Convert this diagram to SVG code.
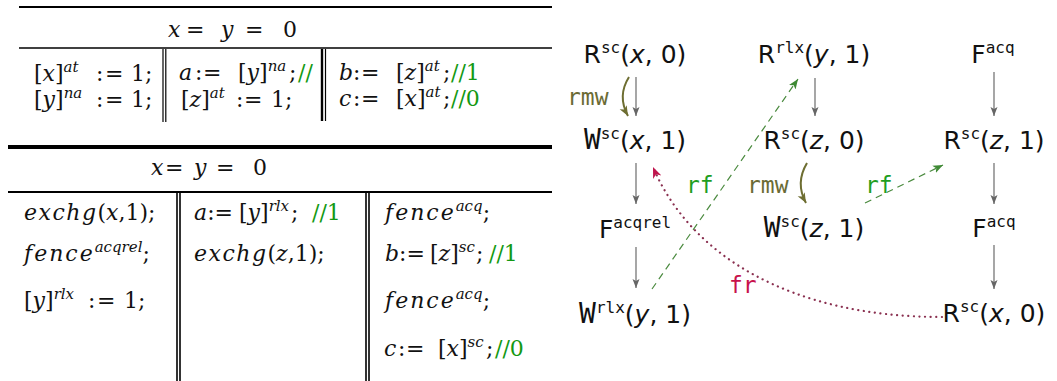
<svg xmlns="http://www.w3.org/2000/svg" width="1057" height="381" viewBox="0 0 1057 381">
<style>
.t{font-family:"DejaVu Serif",serif;font-size:22px;fill:#111}
.i{font-style:italic}
.w{font-style:italic;letter-spacing:1.5px}
.s{font-size:15px;font-style:italic}
.g{fill:#139913}
.n{font-family:"DejaVu Sans",sans-serif;font-size:25px;fill:#111}
.sup{font-family:"DejaVu Sans Mono",monospace;font-size:16px}
.wm{font-family:"DejaVu Sans Mono",monospace;font-size:28px}
.v{font-style:italic}
.lbl{font-family:"DejaVu Sans Mono",monospace;font-size:23px}
.po{stroke:#777;stroke-width:1.3;fill:none}
.rmw{stroke:#6e6e32;stroke-width:2;fill:none}
.rf{stroke:#4a8a3e;stroke-width:1.2;fill:none;stroke-dasharray:7 5}
.fr{stroke:#8a3050;stroke-width:2.2;fill:none;stroke-dasharray:0.1 5.5;stroke-linecap:round}
.rule{stroke:#000;fill:none}
</style>
<defs>
<marker id="aPo" markerUnits="userSpaceOnUse" markerWidth="10" markerHeight="8" refX="9" refY="4" orient="auto"><path d="M0,0.5 L9,4 L0,7.5 L2,4 z" fill="#666"/></marker>
<marker id="aRmw" markerUnits="userSpaceOnUse" markerWidth="11" markerHeight="9" refX="10" refY="4.5" orient="auto"><path d="M0,0.5 L10,4.5 L0,8.5 L2.5,4.5 z" fill="#6e6e32"/></marker>
<marker id="aRf" markerUnits="userSpaceOnUse" markerWidth="11" markerHeight="9" refX="10" refY="4.5" orient="auto"><path d="M0,0.5 L10,4.5 L0,8.5 L2.5,4.5 z" fill="#3f8a35"/></marker>
<marker id="aFr" markerUnits="userSpaceOnUse" markerWidth="12" markerHeight="10" refX="11" refY="5" orient="auto"><path d="M0,0.5 L11,5 L0,9.5 L3,5 z" fill="#c0144c"/></marker>
</defs>

<g id="table1">
<line class="rule" x1="19" y1="7" x2="552" y2="7" stroke-width="2"/>
<line class="rule" x1="19" y1="48" x2="552" y2="48" stroke-width="1.6"/>
<line class="rule" x1="163" y1="49" x2="163" y2="122" stroke-width="1.2"/>
<line class="rule" x1="165.8" y1="49" x2="165.8" y2="122" stroke-width="1.2"/>
<line class="rule" x1="322" y1="49" x2="322" y2="121" stroke-width="2.4"/>
<line class="rule" x1="325.5" y1="49" x2="325.5" y2="121" stroke-width="1.2"/>
<text class="t" y="37"><tspan x="168" class="i">x</tspan><tspan x="186">=</tspan><tspan x="221" class="i">y</tspan><tspan x="245">=</tspan><tspan x="283">0</tspan></text>
<text class="t" y="81"><tspan x="34">[</tspan><tspan class="i">x</tspan><tspan>]</tspan><tspan dy="-9" class="s">at</tspan><tspan x="96" dy="9">:</tspan><tspan x="105">=</tspan><tspan x="131">1;</tspan></text>
<text class="t" y="107"><tspan x="34">[</tspan><tspan class="i">y</tspan><tspan>]</tspan><tspan dy="-9" class="s">na</tspan><tspan x="96" dy="9">:</tspan><tspan x="105">=</tspan><tspan x="131">1;</tspan></text>
<text class="t" y="80"><tspan x="179" class="i">a</tspan><tspan x="195">:</tspan><tspan x="203">=</tspan><tspan x="238">[</tspan><tspan class="i">y</tspan><tspan>]</tspan><tspan dy="-9" class="s">na</tspan><tspan x="289" dy="9">;</tspan><tspan x="298" class="g">//</tspan></text>
<text class="t" y="107"><tspan x="181">[</tspan><tspan class="i">z</tspan><tspan>]</tspan><tspan dy="-9" class="s">at</tspan><tspan x="236" dy="9">:</tspan><tspan x="244">=</tspan><tspan x="271">1;</tspan></text>
<text class="t" y="80"><tspan x="339" class="i">b</tspan><tspan x="353">:</tspan><tspan x="361">=</tspan><tspan x="396">[</tspan><tspan class="i">z</tspan><tspan>]</tspan><tspan dy="-9" class="s">at</tspan><tspan x="443" dy="9">;</tspan><tspan x="451" class="g">//1</tspan></text>
<text class="t" y="106"><tspan x="339" class="i">c</tspan><tspan x="353">:</tspan><tspan x="361">=</tspan><tspan x="396">[</tspan><tspan class="i">x</tspan><tspan>]</tspan><tspan dy="-9" class="s">at</tspan><tspan x="443" dy="9">;</tspan><tspan x="451" class="g">//0</tspan></text>
</g>

<g id="table2">
<line class="rule" x1="8" y1="147" x2="552" y2="147" stroke-width="4"/>
<line class="rule" x1="8" y1="192" x2="552" y2="192" stroke-width="2"/>
<line class="rule" x1="177" y1="193" x2="177" y2="381" stroke-width="1.6"/>
<line class="rule" x1="180" y1="193" x2="180" y2="381" stroke-width="1.6"/>
<line class="rule" x1="366" y1="193" x2="366" y2="381" stroke-width="1.6"/>
<line class="rule" x1="369" y1="193" x2="369" y2="381" stroke-width="1.6"/>
<text class="t" y="175"><tspan x="151" class="i">x</tspan><tspan x="165">=</tspan><tspan x="194" class="i">y</tspan><tspan x="216">=</tspan><tspan x="253">0</tspan></text>
<text class="t" y="220"><tspan x="24" class="w">exchg</tspan><tspan>(</tspan><tspan class="i">x</tspan><tspan>,1);</tspan></text>
<text class="t" y="261"><tspan x="24" class="w" style="letter-spacing:2px">fence</tspan><tspan dy="-9" class="s">acqrel</tspan><tspan dy="9">;</tspan></text>
<text class="t" y="308"><tspan x="24">[</tspan><tspan class="i">y</tspan><tspan>]</tspan><tspan dy="-9" class="s">rlx</tspan><tspan x="88" dy="9">:</tspan><tspan x="97">=</tspan><tspan x="124">1;</tspan></text>
<text class="t" y="220"><tspan x="194" class="i">a</tspan><tspan>:=</tspan><tspan x="239">[</tspan><tspan class="i">y</tspan><tspan>]</tspan><tspan dy="-9" class="s">rlx</tspan><tspan dx="2" dy="9">;</tspan><tspan x="312" class="g">//1</tspan></text>
<text class="t" y="261"><tspan x="194" class="w">exchg</tspan><tspan>(</tspan><tspan class="i">z</tspan><tspan>,1);</tspan></text>
<text class="t" y="220"><tspan x="385" class="w" style="letter-spacing:2px">fence</tspan><tspan dy="-9" class="s">acq</tspan><tspan dy="9">;</tspan></text>
<text class="t" y="261"><tspan x="385" class="i">b</tspan><tspan>:=</tspan><tspan x="430">[</tspan><tspan class="i">z</tspan><tspan>]</tspan><tspan dy="-9" class="s">sc</tspan><tspan dx="1" dy="9">;</tspan><tspan x="489" class="g">//1</tspan></text>
<text class="t" y="308"><tspan x="385" class="w" style="letter-spacing:2px">fence</tspan><tspan dy="-9" class="s">acq</tspan><tspan dy="9">;</tspan></text>
<text class="t" y="356"><tspan x="384" class="i">c</tspan><tspan x="398">:</tspan><tspan x="406">=</tspan><tspan x="438">[</tspan><tspan class="i">x</tspan><tspan>]</tspan><tspan dy="-9" class="s">sc</tspan><tspan x="486" dy="9">;</tspan><tspan x="495" class="g">//0</tspan></text>
</g>

<g id="connectors">
<path class="po" d="M636,77 L636,116" marker-end="url(#aPo)"/>
<path class="po" d="M815,78 L815,116" marker-end="url(#aPo)"/>
<path class="po" d="M994,72 L994,116" marker-end="url(#aPo)"/>
<path class="po" d="M636,163 L636,204" marker-end="url(#aPo)"/>
<path class="po" d="M994,163 L994,204" marker-end="url(#aPo)"/>
<path class="po" d="M636,247 L636,288" marker-end="url(#aPo)"/>
<path class="po" d="M994,245 L994,289" marker-end="url(#aPo)"/>
<path class="rmw" d="M629,77 Q617,96 628,116" marker-end="url(#aRmw)"/>
<path class="rmw" d="M807,163 Q795,183 806,203" marker-end="url(#aRmw)"/>
<path class="rf" d="M652,289 L798,79" marker-end="url(#aRf)"/>
<path class="rf" d="M865,203 L943,165" marker-end="url(#aRf)"/>
<path class="fr" d="M942,317 C790,317 690,255 653,167" marker-end="url(#aFr)"/>
<text class="lbl" x="567" y="105" fill="#6b6b35">rmw</text>
<text class="lbl" x="686" y="193" fill="#1f9e1f">rf</text>
<text class="lbl" x="747" y="193" fill="#6b6b35">rmw</text>
<text class="lbl" x="865" y="193" fill="#1f9e1f">rf</text>
<text class="lbl" x="729" y="293" fill="#c8124c">fr</text>
</g>

<g id="n1"><text class="n" x="635" y="63" text-anchor="middle">R<tspan class="sup" dy="-10">sc</tspan><tspan dy="10">(</tspan><tspan class="v">x</tspan>, 0)</text></g>
<g id="n2"><text class="n" x="814" y="63" text-anchor="middle">R<tspan class="sup" dy="-10">rlx</tspan><tspan dy="10">(</tspan><tspan class="v">y</tspan>, 1)</text></g>
<g id="n3"><text class="n" x="993" y="63" text-anchor="middle">F<tspan class="sup" dy="-10">acq</tspan></text></g>
<g id="n4"><text class="n" x="635" y="149" text-anchor="middle"><tspan class="wm">W</tspan><tspan class="sup" dy="-10">sc</tspan><tspan dy="10">(</tspan><tspan class="v">x</tspan>, 1)</text></g>
<g id="n5"><text class="n" x="814" y="149" text-anchor="middle">R<tspan class="sup" dy="-10">sc</tspan><tspan dy="10">(</tspan><tspan class="v">z</tspan>, 0)</text></g>
<g id="n6"><text class="n" x="994" y="149" text-anchor="middle">R<tspan class="sup" dy="-10">sc</tspan><tspan dy="10">(</tspan><tspan class="v">z</tspan>, 1)</text></g>
<g id="n7"><text class="n" x="635" y="238" text-anchor="middle">F<tspan class="sup" dy="-10">acqrel</tspan></text></g>
<g id="n8"><text class="n" x="814" y="237" text-anchor="middle"><tspan class="wm">W</tspan><tspan class="sup" dy="-10">sc</tspan><tspan dy="10">(</tspan><tspan class="v">z</tspan>, 1)</text></g>
<g id="n9"><text class="n" x="994" y="237" text-anchor="middle">F<tspan class="sup" dy="-10">acq</tspan></text></g>
<g id="n10"><text class="n" x="635" y="323" text-anchor="middle"><tspan class="wm">W</tspan><tspan class="sup" dy="-10">rlx</tspan><tspan dy="10">(</tspan><tspan class="v">y</tspan>, 1)</text></g>
<g id="n11"><text class="n" x="994" y="322" text-anchor="middle">R<tspan class="sup" dy="-10">sc</tspan><tspan dy="10">(</tspan><tspan class="v">x</tspan>, 0)</text></g>
</svg>
